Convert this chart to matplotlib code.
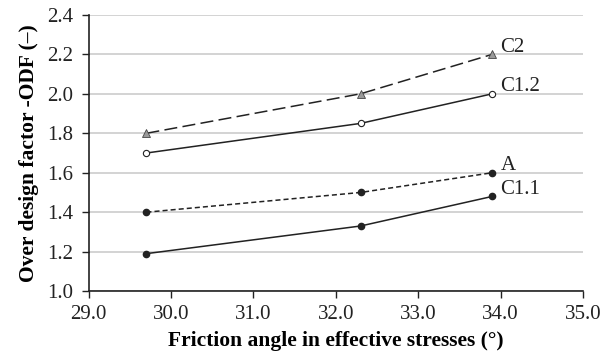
import matplotlib
matplotlib.use("Agg")
import matplotlib.pyplot as plt

friction = [29.7, 32.3, 33.9]
c2 = [1.80, 2.00, 2.20]
c12 = [1.70, 1.85, 2.00]
a = [1.40, 1.50, 1.60]
c11 = [1.19, 1.33, 1.48]
labels = ["C2", "C1.2", "A", "C1.1"]
xticks = [29.0, 30.0, 31.0, 32.0, 33.0, 34.0, 35.0]
yticks = [1.0, 1.2, 1.4, 1.6, 1.8, 2.0, 2.2, 2.4]

plt.rcParams['font.family'] = ['Liberation Serif', 'DejaVu Serif']

fig = plt.figure(figsize=(6.04, 3.63), dpi=100)
ax = fig.add_axes([0.147, 0.198, 0.818, 0.761])

ax.plot(friction, c2, color='#222222', lw=1.1, ls=(0, (8.5, 3.5)), marker='^', ms=6,
        mfc='#999999', mec='#444444', mew=0.6)
ax.plot(friction, c12, color='#222222', lw=1.1, ls='-', marker='o', ms=4.5,
        mfc='white', mec='#222222', mew=0.8)
ax.plot(friction, a, color='#222222', lw=1.1, ls=(0, (3.3, 2)), marker='o', ms=4.5,
        mfc='#222222', mec='#222222')
ax.plot(friction, c11, color='#222222', lw=1.1, ls='-', marker='o', ms=4.5,
        mfc='#222222', mec='#222222')

for lab, ys in zip(labels, [c2, c12, a, c11]):
    ax.annotate(lab, (friction[-1], ys[-1]), xytext=(6, 5), textcoords='offset points',
                fontsize=15, va='center', ha='left', color='#222222')

ax.set_xlim(29.0, 35.0)
ax.set_ylim(1.0, 2.4)
ax.set_xticks(xticks)
ax.set_yticks(yticks)
ax.set_xticklabels([f"{v:.1f}" for v in xticks])
ax.set_yticklabels([f"{v:.1f}" for v in yticks])
ax.tick_params(axis='both', direction='out', length=5, width=1, labelsize=15, colors='#222222')
ax.tick_params(axis='x', pad=5)
ax.tick_params(axis='y', pad=6)
ax.grid(axis='y', color='#cccccc', lw=1.2)
ax.set_axisbelow(True)
for s in ['top', 'right']:
    ax.spines[s].set_visible(False)
for s in ['left', 'bottom']:
    ax.spines[s].set_color('#222222')
    ax.spines[s].set_linewidth(1.2)

ax.set_xlabel("Friction angle in effective stresses (°)", fontsize=15.5, fontweight='bold', labelpad=5)
ax.set_ylabel("Over design factor -ODF (\u2013)", fontsize=15.5, fontweight='bold', labelpad=6)

fig.savefig("out.png", dpi=100)
